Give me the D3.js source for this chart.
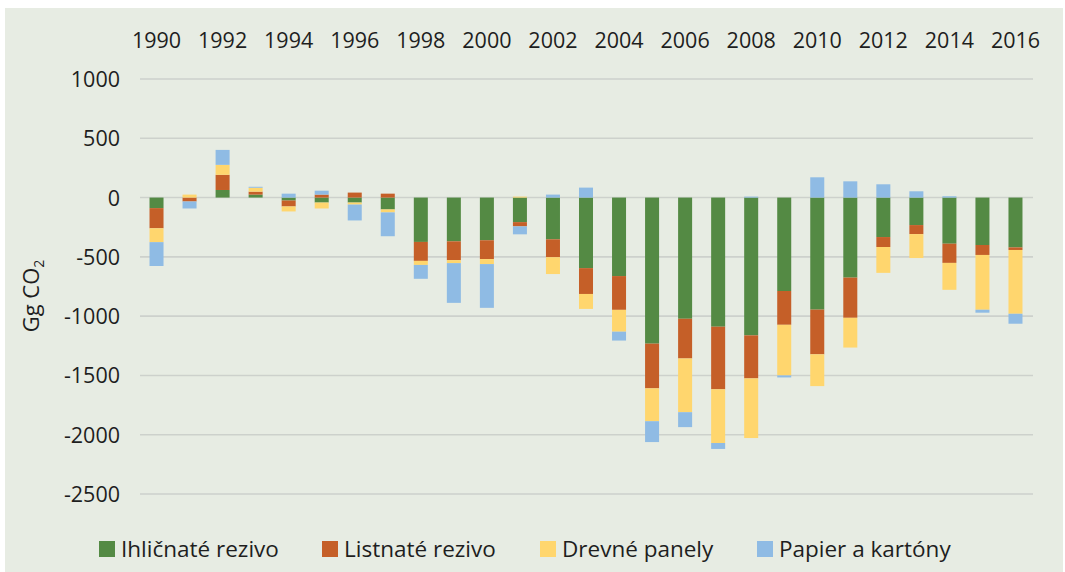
<!DOCTYPE html>
<html>
<head>
<meta charset="utf-8">
<script src="https://cdn.jsdelivr.net/npm/d3@7"></script>
<style>
  html, body { margin: 0; padding: 0; background: #ffffff; }
  svg { display: block; }
  text { font-family: "Open Sans", "Noto Sans", sans-serif; fill: #1e1e1e; }
</style>
</head>
<body>
<svg id="chart" width="1065" height="572"></svg>
<script>
// Years on the category axis
const years = d3.range(1990, 2017);
// Labelled years (every second year)
const yearLabels = years.filter(y => y % 2 === 0);

// Series values, Gg CO2
const ihlicnateRezivo = [-89, 0, 64, 25, -25, -42, -42, -100, -374, -369, -360, -207, -352, -595, -662,
  -1232, -1022, -1089, -1162, -788, -945, -675, -333, -232, -389, -400, -420];
const listnateRezivo = [-170, -33, 128, 25, -50, 25, 42, 33, -160, -159, -159, -36, -151, -218, -285,
  -377, -335, -528, -363, -285, -377, -339, -84, -76, -162, -84, -22];
const drevnePanely = [-117, 25, 84, 33, -42, -50, -17, -25, -34, -25, -42, 8, -142, -126, -184,
  -277, -453, -453, -503, -427, -268, -251, -218, -202, -227, -462, -538];
const papierKartony = [-201, -59, 126, 8, 33, 33, -134, -201, -117, -335, -369, -67, 25, 84, -75,
  -176, -126, -50, 8, -17, 171, 137, 112, 53, 11, -25, -84];

const seriesNames = ["Ihličnaté rezivo", "Listnaté rezivo", "Drevné panely", "Papier a kartóny"];
const seriesValues = [ihlicnateRezivo, listnateRezivo, drevnePanely, papierKartony];
const seriesColors = ["#548a44", "#c55f28", "#ffd66e", "#8fbbe4"];

// Y axis ticks
const yTicks = [1000, 500, 0, -500, -1000, -1500, -2000, -2500];

const rows = years.map((yr, i) => {
  const r = { year: yr };
  seriesNames.forEach((n, s) => { r[n] = seriesValues[s][i]; });
  return r;
});

const svg = d3.select("#chart");

// Chart background
svg.append("rect")
  .attr("x", 5).attr("y", 8)
  .attr("width", 1058).attr("height", 564)
  .attr("fill", "#e7ece3");

const x = d3.scaleBand()
  .domain(years)
  .range([140, 1032])
  .paddingInner(0.576)
  .paddingOuter(0.288);

const y = d3.scaleLinear()
  .domain([-2500, 1000])
  .range([494, 79]);

// Horizontal gridlines
svg.append("g")
  .selectAll("line")
  .data(yTicks)
  .join("line")
  .attr("x1", 140).attr("x2", 1033)
  .attr("y1", d => y(d)).attr("y2", d => y(d))
  .attr("stroke", "#cdd1cc")
  .attr("stroke-width", 1.6);

// Y axis labels (plain hyphen for negatives)
const yAxis = d3.axisLeft(y).tickValues(yTicks).tickSize(0).tickPadding(0).tickFormat(d => String(d));
const gy = svg.append("g").attr("transform", "translate(120,0)").call(yAxis);
gy.select(".domain").remove();
gy.selectAll("text")
  .attr("font-size", 21.5)
  .attr("font-family", "Open Sans, Noto Sans, sans-serif")
  .attr("fill", "#1e1e1e")
  .attr("dy", "0.35em");

// Year labels along the top
const xAxis = d3.axisTop(x).tickValues(yearLabels).tickSize(0).tickPadding(0);
const gx = svg.append("g").attr("transform", "translate(0,48)").call(xAxis);
gx.select(".domain").remove();
gx.selectAll("text")
  .attr("font-size", 21.5)
  .attr("font-family", "Open Sans, Noto Sans, sans-serif")
  .attr("fill", "#1e1e1e")
  .attr("dy", "0");

// Stacked bars, positive values up and negative values down
const stacked = d3.stack()
  .keys(seriesNames)
  .offset(d3.stackOffsetDiverging)(rows);

svg.append("g")
  .selectAll("g")
  .data(stacked)
  .join("g")
  .attr("fill", (d, i) => seriesColors[i])
  .selectAll("rect")
  .data(d => d)
  .join("rect")
  .attr("x", d => x(d.data.year))
  .attr("width", x.bandwidth())
  .attr("y", d => y(Math.max(d[0], d[1])))
  .attr("height", d => Math.abs(y(d[0]) - y(d[1])));

// Y axis title
const yTitle = svg.append("text")
  .attr("transform", "translate(39,296) rotate(-90)")
  .attr("text-anchor", "middle")
  .attr("font-size", 22);
yTitle.append("tspan").text("Gg CO");
yTitle.append("tspan").text("2").attr("font-size", 14).attr("dy", 5);

// Legend
const legendX = [99, 322, 540, 757];
const legend = svg.append("g")
  .selectAll("g")
  .data(seriesNames)
  .join("g")
  .attr("transform", (d, i) => `translate(${legendX[i]},549)`);
legend.append("rect")
  .attr("x", 0).attr("y", -8)
  .attr("width", 16).attr("height", 16)
  .attr("fill", (d, i) => seriesColors[i]);
legend.append("text")
  .attr("x", 22).attr("y", 0)
  .attr("dy", "0.35em")
  .attr("font-size", 22.5)
  .text(d => d);
</script>
</body>
</html>
